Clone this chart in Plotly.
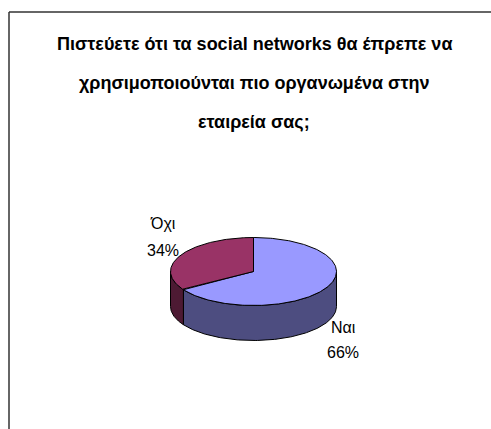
import numpy as np
import plotly.graph_objects as go

# Survey answers
categories = ["Ναι", "Όχι"]
shares = [66, 34]
title_lines = [
    "Πιστεύετε ότι τα social networks θα έπρεπε να",
    "χρησιμοποιούνται πιο οργανωμένα στην",
    "εταιρεία σας;",
]
top_colors = ["#9999FF", "#993366"]
side_colors = ["#4D4D80", "#4D1A33"]

WIDTH, HEIGHT = 491, 429
CX, CY, RX, RY, DEPTH = 253.5, 271.5, 83.0, 34.0, 35.0
FONT = "Liberation Sans Narrow, Arial Narrow, Liberation Sans, sans-serif"


def rim(t0, t1, drop=0.0):
    """Points on the pie rim; angles run clockwise from twelve o'clock."""
    t = np.radians(np.linspace(t0, t1, max(int(abs(t1 - t0)), 2) + 1))
    return CX + RX * np.sin(t), CY - RY * np.cos(t) + drop


fig = go.Figure()


def add_face(x, y, color):
    fig.add_trace(go.Scatter(
        x=x, y=y, mode="lines", fill="toself", fillcolor=color,
        line=dict(color="#000000", width=1), hoverinfo="skip", showlegend=False,
    ))


# Slice extents follow from the shares
ends = np.cumsum(shares) / sum(shares) * 360
starts = np.concatenate(([0], ends[:-1]))

# Walls first: only the front half of the rim (90..270 degrees) is visible
for start, end, color in zip(starts, ends, side_colors):
    a, b = max(start, 90), min(end, 270)
    if a < b:
        x_up, y_up = rim(a, b)
        x_dn, y_dn = rim(b, a, DEPTH)
        add_face(np.r_[x_up, x_dn, x_up[0]], np.r_[y_up, y_dn, y_up[0]], color)

# Top faces
for start, end, color in zip(starts, ends, top_colors):
    x, y = rim(start, end)
    add_face(np.r_[CX, x, CX], np.r_[CY, y, CY], color)

# Chart frame, open towards the right and bottom edges
fig.add_shape(type="line", x0=9, x1=9, y0=12, y1=HEIGHT,
              line=dict(color="#333333", width=1.5))
fig.add_shape(type="line", x0=9, x1=WIDTH, y0=12, y1=12,
              line=dict(color="#333333", width=1.5))

for line, y in zip(title_lines, [44, 83, 122]):
    fig.add_annotation(x=254, y=y, text=f"<b>{line}</b>", showarrow=False,
                       font=dict(family=FONT, size=18, color="#000000"))

label_positions = {"Ναι": (343, 327, 352), "Όχι": (163, 223, 250)}
for name, value in zip(categories, shares):
    x, y_name, y_value = label_positions[name]
    fig.add_annotation(x=x, y=y_name, text=name, showarrow=False,
                       font=dict(family=FONT, size=16, color="#000000"))
    fig.add_annotation(x=x, y=y_value, text=f"{value}%", showarrow=False,
                       font=dict(family=FONT, size=16, color="#000000"))

fig.update_xaxes(range=[0, WIDTH], visible=False, fixedrange=True)
fig.update_yaxes(range=[HEIGHT, 0], visible=False, fixedrange=True)
fig.update_layout(width=WIDTH, height=HEIGHT, margin=dict(l=0, r=0, t=0, b=0),
                  paper_bgcolor="#FFFFFF", plot_bgcolor="#FFFFFF")

fig.write_html("out.html")
